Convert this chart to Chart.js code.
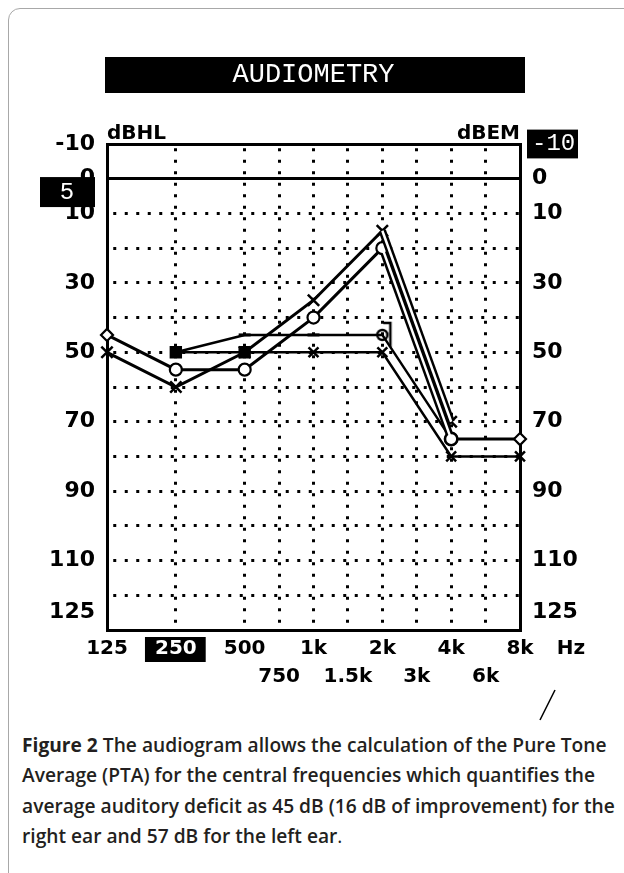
<!DOCTYPE html>
<html><head><meta charset="utf-8">
<script src="https://cdn.jsdelivr.net/npm/chart.js@4.4.1/dist/chart.umd.min.js"></script>
<style>
html,body{margin:0;padding:0;background:#fff;}
body{width:624px;height:873px;position:relative;overflow:hidden;}
#card{position:absolute;left:8px;top:8px;width:800px;height:1000px;border:1.5px solid #a8a8a8;border-top-left-radius:12px;box-sizing:border-box;}
#c{position:absolute;left:0;top:30px;}
#cap{position:absolute;left:22px;top:730px;width:600px;font-family:'Open Sans',sans-serif;font-size:19.2px;line-height:30.4px;font-weight:600;color:#231f20;white-space:nowrap;}
#cap b{font-weight:700;}
#cap span{font-weight:400;}
</style></head><body>
<div id="card"></div>
<canvas id="c" width="624" height="700"></canvas>
<div id="cap"><b>Figure 2</b> The audiogram allows the calculation of the Pure Tone<br>Average (PTA) for the central frequencies which quantifies the<br>average auditory deficit as 45 dB (16 dB of improvement) for the<br>right ear and 57 dB for the left ear<span>.</span></div>
<script>
// ---- data ----
const freqLabels = ['125','250','500','750','1k','1.5k','2k','3k','4k','6k','8k'];
const freqIndex  = [0, 1, 2, 2.5, 3, 3.5, 4, 4.5, 5, 5.5, 6]; // audiometer octave position
const rightAir   = [45, 55, 55, null, 40, null, 20, null, 75, null, 75];
const leftAir    = [50, 60, 50, null, 35, null, 15, null, 70, null, null];
const boneRight  = [null, 50, 45, null, 45, null, 45, null, 75, null, null];
const boneLeft   = [null, 50, 50, null, 50, null, 50, null, 80, null, 80];
const yTickValues  = [-10,0,10,20,30,40,50,60,70,80,90,100,110,120,125,130];
const yLabelValues = [-10,0,10,30,50,70,90,110,125];
const chartTitle = 'AUDIOMETRY';
const leftUnit = 'dBHL', rightUnit = 'dBEM', freqUnit = 'Hz';
const maskLevel = '5';
const highlightedFreq = '250';

// ---- styles ----
const rightAirStyle = ['rectRot','circle','circle','circle','circle','circle','circle','circle','circle','circle','rectRot'];
const br = document.createElement('canvas'); br.width = 26; br.height = 28;
(function(){const g = br.getContext('2d'); g.strokeStyle = '#000'; g.lineWidth = 2.5;
  g.beginPath(); g.moveTo(14,2); g.lineTo(21,2); g.lineTo(21,26); g.stroke();
  g.beginPath(); g.arc(13,14,5,0,Math.PI*2); g.stroke();})();
const boneRightStyle = ['line','rect','line','line','line','line',br,'line','circle','line','line'];
const boneLeftStyle = ['crossRot','rect','rect','crossRot','crossRot','crossRot','crossRot','crossRot','crossRot','crossRot','crossRot'];

const pts = arr => freqIndex.map((x,i)=>({x, y: arr[i]}));
const part = (arr,a,b) => freqIndex.map((x,i)=>({x, y: (x>=a && x<=b) ? arr[i] : null}));
const dbl = ctx => freqIndex[ctx.p1DataIndex] === 5 ? 7.5 : 3;
const fontBold = (size, lh) => ({family:'DejaVu Sans', weight:'bold', size, lineHeight: lh});

const yBase = (pos) => ({
  type:'linear', position:pos, reverse:true, min:-10, max:130,
  afterBuildTicks: s => { s.ticks = yTickValues.map(v=>({value:v})); },
  afterFit: s => { s.width = 58; },
  ticks: { autoSkip:false, padding:12, color:'#000', font: fontBold(22,1.2),
    callback: v => yLabelValues.includes(v) ? String(v) : '' },
  border: { display:true, color:'#000', width:3 }
});
const yLeft = yBase('left');
yLeft.grid = { drawTicks:false, lineWidth:3,
  color: ctx => { const v = ctx.tick ? ctx.tick.value : null; return (v===-10||v===125||v===130) ? 'rgba(0,0,0,0)' : '#000'; } };
yLeft.border.dash = ctx => (ctx.tick && ctx.tick.value === 0) ? [] : [3, 8.5];
yLeft.border.dashOffset = 7.25;
const yRight = yBase('right');
yRight.grid = { display:false, drawTicks:false };
yRight.ticks.color = ctx => ctx.tick && ctx.tick.value === -10 ? '#fff' : '#000';
yRight.ticks.showLabelBackdrop = ctx => !!(ctx.tick && ctx.tick.value === -10);
yRight.ticks.backdropColor = '#000';
yRight.ticks.backdropPadding = {left:5, right:10, top:0, bottom:0};
yRight.ticks.font = ctx => (ctx.tick && ctx.tick.value === -10) ? {family:'Liberation Mono', size:24, weight:'normal', lineHeight:1.2} : fontBold(22,1.2);

const decor = {
  id:'decor',
  beforeDraw(chart){ const c = chart.ctx; c.save(); c.fillStyle = '#000'; c.fillRect(105, 27, 420, 36); c.restore(); },
  afterDraw(chart){
    const c = chart.ctx, y = chart.scales.y, x = chart.scales.x;
    const y5 = y.getPixelForValue(5);
    c.save();
    c.fillStyle = '#000'; c.fillRect(40, y5-19, 55, 30);
    c.fillStyle = '#fff'; c.font = '24px "Liberation Mono"'; c.textAlign = 'center'; c.textBaseline = 'middle';
    c.fillText(maskLevel, 67, y5-3);
    c.fillStyle = '#000'; c.font = 'bold 20px "DejaVu Sans"';
    c.fillText(freqUnit, x.right + 51, x.top + 19);
    c.strokeStyle = '#000'; c.lineWidth = 1.6; c.beginPath();
    c.moveTo(x.right + 35, x.top + 60); c.lineTo(x.right + 20, x.top + 90); c.stroke();
    c.restore();
  }
};

new Chart(document.getElementById('c'), {
  type:'line',
  data:{ datasets:[
    { label:'Right air', data: pts(rightAir), borderColor:'#000', borderWidth:3, segment:{borderWidth:dbl},
      pointStyle: rightAirStyle, pointRadius:6, pointBorderWidth:2.2, pointBackgroundColor:'#fff', pointBorderColor:'#000',
      spanGaps:true, tension:0, clip:false, order:5 },
    { label:'Right air core', data: part(rightAir,4,5), borderColor:'#fff', borderWidth:2.5, pointRadius:0,
      spanGaps:true, tension:0, clip:false, order:1 },
    { label:'Left air', data: pts(leftAir), borderColor:'#000', borderWidth:3, segment:{borderWidth:dbl},
      pointStyle:'crossRot', pointRadius:8, pointBorderWidth:2.5, pointBorderColor:'#000',
      spanGaps:true, tension:0, clip:false, order:4 },
    { label:'Left air core', data: part(leftAir,4,5), borderColor:'#fff', borderWidth:2.5, pointRadius:0,
      spanGaps:true, tension:0, clip:false, order:0 },
    { label:'Bone right', data: pts(boneRight), borderColor:'#000', borderWidth:2.5,
      pointStyle: boneRightStyle, pointRadius:6, pointBorderWidth:3, pointBackgroundColor:'#000', pointBorderColor:'#000',
      spanGaps:true, tension:0, clip:false, order:7 },
    { label:'Bone left', data: pts(boneLeft), borderColor:'#000', borderWidth:2.5,
      pointStyle: boneLeftStyle, pointRadius:7, pointBorderWidth:2.5, pointBackgroundColor:'#000', pointBorderColor:'#000',
      spanGaps:true, tension:0, clip:false, order:6 }
  ]},
  options:{
    responsive:false, animation:false, events:[],
    layout:{ padding:{left:49, right:46, top:0, bottom:30} },
    plugins:{
      legend:{display:false}, tooltip:{enabled:false},
      title:{ display:true, text: chartTitle, color:'#fff',
        font:{family:'Liberation Mono', size:27, weight:'normal', lineHeight:'36px'}, padding:{top:27, bottom:29} }
    },
    scales:{
      x:{ type:'linear', position:'bottom', min:0, max:6,
        afterBuildTicks: s => { s.ticks = freqIndex.map(v=>({value:v})); },
        afterFit: s => { s.height = 70; },
        ticks:{ autoSkip:false, maxRotation:0, minRotation:0, padding:5, font: fontBold(20,1.4),
          color: ctx => freqLabels[freqIndex.indexOf(ctx.tick ? ctx.tick.value : -1)] === highlightedFreq ? '#fff' : '#000',
          showLabelBackdrop: ctx => freqLabels[freqIndex.indexOf(ctx.tick ? ctx.tick.value : -1)] === highlightedFreq,
          backdropColor:'#000', backdropPadding:{left:10, right:9, top:-2, bottom:-1},
          callback: v => { const l = freqLabels[freqIndex.indexOf(v)]; return Number.isInteger(v) ? l : ['', l]; } },
        grid:{ drawTicks:false, lineWidth:3,
          color: ctx => { const v = ctx.tick ? ctx.tick.value : null; return (v===0||v===6) ? 'rgba(0,0,0,0)' : '#000'; } },
        border:{ color:'#000', width:3, dash:[3, 8.5], dashOffset:7.25 } },
      x2:{ type:'linear', position:'top', min:0, max:6,
        afterBuildTicks: s => { s.ticks = [{value:0},{value:6}]; },
        afterFit: s => { s.height = 22; },
        ticks:{ align:'inner', padding:0, color:'#000', font: fontBold(20,1), maxRotation:0,
          callback: v => v === 0 ? leftUnit : rightUnit },
        grid:{ display:false, drawTicks:false },
        border:{ color:'#000', width:3 } },
      y: yLeft,
      y2: yRight
    }
  },
  plugins:[decor]
});
</script>
</body></html>
